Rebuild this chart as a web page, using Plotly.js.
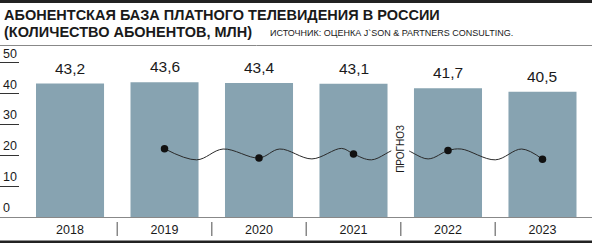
<!DOCTYPE html>
<html>
<head>
<meta charset="utf-8">
<script src="https://cdn.plot.ly/plotly-3.0.1.min.js"></script>
<style>html,body{margin:0;padding:0;background:#fff;}#chart{width:592px;height:243px;}</style>
</head>
<body>
<div id="chart"></div>
<script>
// Data
const years = ['2018', '2019', '2020', '2021', '2022', '2023'];
const subscribers = [43.2, 43.6, 43.4, 43.1, 41.7, 40.5];
const yTicks = [0, 10, 20, 30, 40, 50];

// Decorative wavy line with dots (positions in category units / value units)
const dotYears = ['2019', '2020', '2021', '2022', '2023'];
const dotValues = [22.1, 19.1, 20.4, 21.5, 18.7];
const waveX = [1.0, 1.34, 1.62, 2.0, 2.22, 2.56, 2.875, 3.0, 3.19, 3.49, 3.79, 4.0, 4.14, 4.5, 4.78, 5.0];
const waveY = [22.1, 18.5, 22.0, 19.1, 22.0, 18.8, 22.2, 20.4, 18.5, 22.2, 18.8, 21.5, 22.0, 18.5, 22.0, 18.7];

const titleLine1 = 'АБОНЕНТСКАЯ БАЗА ПЛАТНОГО ТЕЛЕВИДЕНИЯ В РОССИИ';
const titleLine2 = '(КОЛИЧЕСТВО АБОНЕНТОВ, МЛН)';
const sourceText = 'ИСТОЧНИК: ОЦЕНКА J`SON &amp; PARTNERS CONSULTING.';
const forecastLabel = 'ПРОГНОЗ';

const idx = years.map((y, i) => i);
const dotIdx = dotYears.map(y => years.indexOf(y));

const W = 592, H = 243, T = 45, B = 217;
const py = p => (B - p) / (B - T); // pixel y -> paper y

const barTrace = {
  type: 'bar', x: idx, y: subscribers, width: 0.72,
  marker: {color: '#87a3b1'},
  hoverinfo: 'skip'
};
const waveTrace = {
  type: 'scatter', mode: 'lines', x: waveX, y: waveY,
  line: {color: '#2a2a2a', width: 1, shape: 'spline', smoothing: 1},
  hoverinfo: 'skip'
};
const dotTrace = {
  type: 'scatter', mode: 'markers', x: dotIdx, y: dotValues,
  marker: {color: '#111', size: 7.5},
  hoverinfo: 'skip'
};

const narrow = 'Liberation Sans Narrow, Arial Narrow, sans-serif';

const shapes = [
  {type: 'rect', xref: 'paper', yref: 'paper', x0: 0, x1: 1, y0: py(3), y1: py(0), fillcolor: '#222', line: {width: 0}},
  {type: 'line', xref: 'paper', yref: 'paper', x0: 0, x1: 1, y0: py(45.5), y1: py(45.5), line: {color: '#888', width: 1}},
  {type: 'rect', xref: 'paper', yref: 'paper', x0: 0, x1: 1, y0: py(243), y1: py(240.5), fillcolor: '#222', line: {width: 0}}
];
for (let i = 0; i < years.length - 1; i++) {
  shapes.push({type: 'line', xref: 'x', yref: 'paper', x0: i + 0.5, x1: i + 0.5, y0: py(222), y1: py(236), line: {color: '#888', width: 1.5}});
}

const annotations = [
  {xref: 'paper', yref: 'paper', x: 2 / W, y: py(15.5), xanchor: 'left', yanchor: 'middle', showarrow: false,
   text: titleLine1, font: {family: narrow, size: 14.5, color: '#1a1a1a', weight: 'bold'}},
  {xref: 'paper', yref: 'paper', x: 2 / W, y: py(31.5), xanchor: 'left', yanchor: 'middle', showarrow: false,
   text: titleLine2, font: {family: narrow, size: 14.5, color: '#1a1a1a', weight: 'bold'}},
  {xref: 'paper', yref: 'paper', x: 268 / W, y: py(32.5), xanchor: 'left', yanchor: 'middle', showarrow: false,
   text: sourceText, font: {family: narrow, size: 9, color: '#1a1a1a'}},
  {xref: 'x', yref: 'y', x: 3.49, y: 22, textangle: -90, showarrow: false, text: forecastLabel,
   bgcolor: '#fff', borderpad: 3, font: {family: narrow, size: 10, color: '#1a1a1a'}}
];
subscribers.forEach((v, i) => {
  annotations.push({xref: 'x', yref: 'y', x: idx[i], y: v, yanchor: 'bottom', yshift: 5, showarrow: false,
    text: v.toFixed(1).replace('.', ','),
    font: {family: 'Liberation Sans, Arial, sans-serif', size: 15.5, color: '#1a1a1a'}});
});

const layout = {
  width: W, height: H, margin: {l: 0, r: 0, t: T, b: H - B},
  paper_bgcolor: '#fff', plot_bgcolor: '#fff', showlegend: false,
  xaxis: {
    range: [-0.741, 5.524], tickvals: idx, ticktext: years, showgrid: false, zeroline: false,
    showline: true, linecolor: '#888', linewidth: 1, ticks: '', ticklabelstandoff: 1,
    tickfont: {family: narrow, size: 12.5, color: '#1a1a1a'}, fixedrange: true
  },
  yaxis: {
    range: [0, (B - T) / 3.09], tickvals: yTicks, showgrid: false, zeroline: false, showline: false,
    ticks: 'inside', ticklen: 19, tickcolor: '#333', tickwidth: 1,
    ticklabelposition: 'inside top',
    tickfont: {family: narrow, size: 12.5, color: '#1a1a1a'}, fixedrange: true
  },
  shapes: shapes, annotations: annotations
};

Plotly.newPlot('chart', [barTrace, waveTrace, dotTrace], layout, {staticPlot: true, displayModeBar: false});
</script>
</body>
</html>
